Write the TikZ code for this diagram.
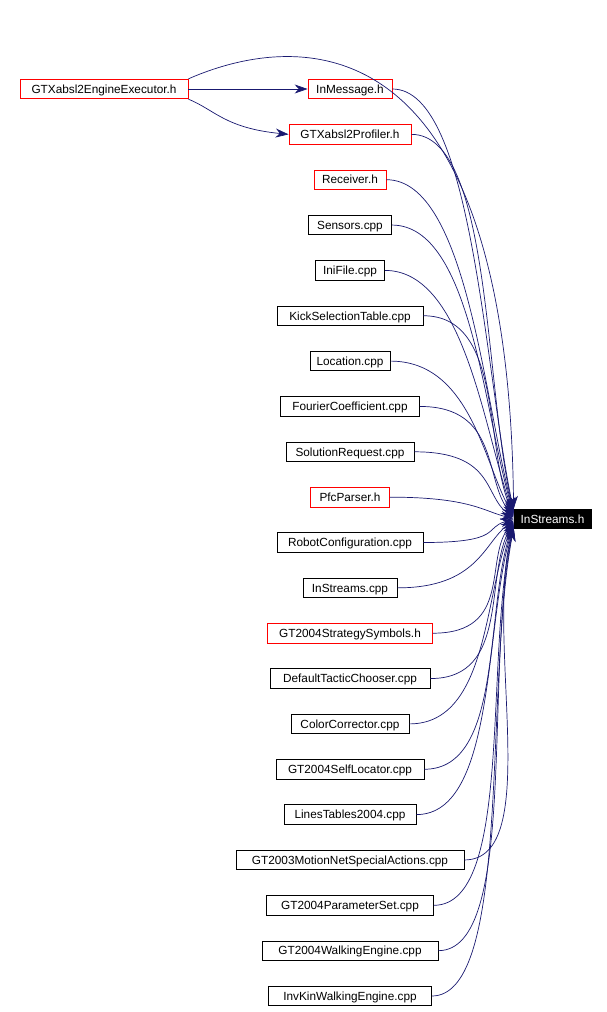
\documentclass[tikz,border=0pt]{standalone}
\usepackage{fontspec}
\setmainfont{Liberation Sans}
\usetikzlibrary{arrows.meta}
\definecolor{edge}{RGB}{25,25,112}
\begin{document}
\begin{tikzpicture}[x=1pt,y=-1pt,
  box/.style={draw=black,fill=white,font=\fontsize{11.8}{13}\selectfont,inner sep=0pt,minimum height=19.5pt,line width=0.8pt,text height=11pt,text depth=2.5pt},
  rbox/.style={box,draw=red},
  conn/.style={draw=edge,line width=0.7pt,-{Stealth[length=13pt,width=9pt]}}]
\useasboundingbox (0,0) rectangle (607,1012);
\node[rbox,minimum width=168pt] (ex) at (104,89) {GTXabsl2EngineExecutor.h};
\node[box,fill=black,text=white,minimum width=77pt] (t) at (552.5,519) {InStreams.h};
\foreach \i/\nm/\w/\st in {
 0/InMessage.h/84/rbox,
 1/GTXabsl2Profiler.h/122/rbox,
 2/Receiver.h/72/rbox,
 3/Sensors.cpp/83/box,
 4/IniFile.cpp/69/box,
 5/KickSelectionTable.cpp/146/box,
 6/Location.cpp/80/box,
 7/FourierCoefficient.cpp/139/box,
 8/SolutionRequest.cpp/128/box,
 9/PfcParser.h/79/rbox,
 10/RobotConfiguration.cpp/146/box,
 11/InStreams.cpp/94/box,
 12/GT2004StrategySymbols.h/165/rbox,
 13/DefaultTacticChooser.cpp/160/box,
 14/ColorCorrector.cpp/118/box,
 15/GT2004SelfLocator.cpp/148/box,
 16/LinesTables2004.cpp/132/box,
 17/GT2003MotionNetSpecialActions.cpp/228/box,
 18/GT2004ParameterSet.cpp/167/box,
 19/GT2004WalkingEngine.cpp/176/box,
 20/InvKinWalkingEngine.cpp/163/box}{
 \pgfmathsetmacro{\yy}{89+45.35*\i}
 \node[\st,minimum width=\w pt] (n\i) at (350,\yy) {\nm};
 \pgfmathsetmacro{\cy}{519+0.35*(\yy-519)}
 \pgfmathsetmacro{\ty}{519+0.02*(\yy-519)}
 \draw[conn] (n\i.east) .. controls +(80,0) and (484,\cy) .. (t.west |- 0,\ty);
}
\draw[conn] (ex.east) -- (n0.west);
\draw[conn] (ex.south east) .. controls (215,110) and (225,128) .. (n1.west);
\draw[conn] (ex.north east) .. controls (300,30) and (508,20) .. (t.north west);
\end{tikzpicture}
\end{document}
